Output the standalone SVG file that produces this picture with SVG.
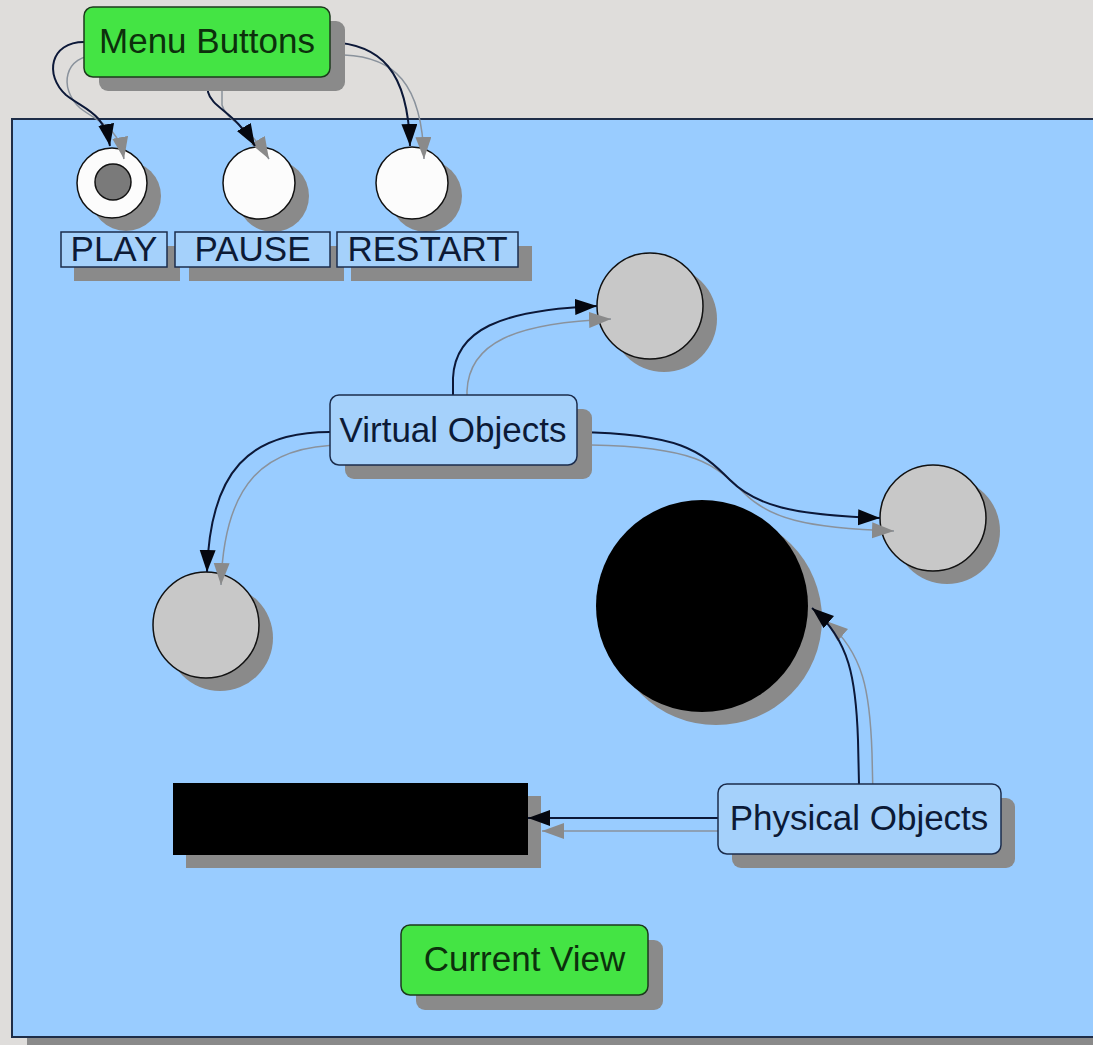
<svg xmlns="http://www.w3.org/2000/svg" width="1093" height="1045" viewBox="0 0 1093 1045">
  <style>
    .shadow { fill: #8a8a8a; }
    .green { fill: #44e444; stroke: #1c3a1c; stroke-width: 1.5; }
    .blue { fill: #a5d1fb; stroke: #1b2c4c; stroke-width: 1.5; }
    .white { fill: #fcfcfc; stroke: #111; stroke-width: 1.5; }
    .grey { fill: #c8c8c8; stroke: #111; stroke-width: 1.5; }
    .label { font-family: "Liberation Sans", Arial, sans-serif; font-size: 35px; text-anchor: middle; }
    .gtext { fill: #0c300c; }
    .btext { fill: #0c1a36; }
    .conn { fill: none; stroke: #0c1838; stroke-width: 2; }
    .conn-sh { fill: none; stroke: #8a929c; stroke-width: 1.5; }
  </style>
  <defs>
    <marker id="arrow" markerUnits="userSpaceOnUse" markerWidth="24" markerHeight="18" refX="22" refY="8" orient="auto">
      <path d="M0,0 L22,8 L0,16 z" fill="#05070f"/>
    </marker>
    <marker id="arrow-sh" markerUnits="userSpaceOnUse" markerWidth="24" markerHeight="18" refX="22" refY="8" orient="auto">
      <path d="M0,0 L22,8 L0,16 z" fill="#8a8a8a"/>
    </marker>
  </defs>

  <!-- page background -->
  <rect x="0" y="0" width="1093" height="1045" fill="#dfdddb"/>

  <!-- view panel -->
  <g id="panel">
    <rect x="27" y="1038" width="1080" height="10" class="shadow"/>
    <rect x="12" y="119" width="1100" height="918" fill="#99ccff" stroke="#1e2d48" stroke-width="2"/>
  </g>

  <!-- button circles -->
  <g id="play-button">
    <circle cx="126" cy="196" r="35" class="shadow"/>
    <circle cx="112" cy="183" r="35" class="white"/>
    <circle cx="113" cy="182" r="18" fill="#7a7a7a" stroke="#111" stroke-width="1.5"/>
  </g>
  <g id="pause-button">
    <circle cx="273" cy="196" r="36" class="shadow"/>
    <circle cx="259" cy="183" r="36" class="white"/>
  </g>
  <g id="restart-button">
    <circle cx="426" cy="196" r="36" class="shadow"/>
    <circle cx="412" cy="183" r="36" class="white"/>
  </g>

  <!-- button labels -->
  <g id="play-label">
    <rect x="74" y="246" width="106" height="35" class="shadow"/>
    <rect x="61" y="232" width="106" height="35" class="blue"/>
    <text x="114" y="261" class="label btext">PLAY</text>
  </g>
  <g id="pause-label">
    <rect x="189" y="246" width="155" height="35" class="shadow"/>
    <rect x="175" y="232" width="155" height="35" class="blue"/>
    <text x="252.5" y="261" class="label btext">PAUSE</text>
  </g>
  <g id="restart-label">
    <rect x="351" y="246" width="181" height="35" class="shadow"/>
    <rect x="337" y="232" width="181" height="35" class="blue"/>
    <text x="427.5" y="261" class="label btext">RESTART</text>
  </g>

  <!-- virtual object circles -->
  <g id="virtual-top">
    <circle cx="664" cy="319" r="53" class="shadow"/>
    <circle cx="650" cy="306" r="53" class="grey"/>
  </g>
  <g id="virtual-right">
    <circle cx="947" cy="531" r="53" class="shadow"/>
    <circle cx="933" cy="518" r="53" class="grey"/>
  </g>
  <g id="virtual-left">
    <circle cx="220" cy="638" r="53" class="shadow"/>
    <circle cx="206" cy="625" r="53" class="grey"/>
  </g>

  <!-- physical objects -->
  <g id="physical-circle">
    <circle cx="716" cy="619" r="106" class="shadow"/>
    <circle cx="702" cy="606" r="106" fill="#000"/>
  </g>
  <g id="physical-bar">
    <rect x="186" y="796" width="355" height="72" class="shadow"/>
    <rect x="173" y="783" width="355" height="72" fill="#000"/>
  </g>

  <!-- connectors: shadow copy first, then the line -->
  <g id="connectors">
    <g transform="translate(14,13)">
      <path class="conn-sh" marker-end="url(#arrow-sh)" d="M84,42 C50,42 44,75 66,95 C85,110 104,112 110,146"/>
      <path class="conn-sh" marker-end="url(#arrow-sh)" d="M208,77 L208,92 C212,108 235,112 255,146"/>
      <path class="conn-sh" marker-end="url(#arrow-sh)" d="M330,42 C380,44 408,70 410,146"/>
      <path class="conn-sh" marker-end="url(#arrow-sh)" d="M453,395 L453,378 C455,330 500,310 597,306"/>
      <path class="conn-sh" marker-end="url(#arrow-sh)" d="M577,432 C680,434 700,450 730,480 C755,505 790,515 880,518"/>
      <path class="conn-sh" marker-end="url(#arrow-sh)" d="M330,432 C250,432 210,470 207,572"/>
      <path class="conn-sh" marker-end="url(#arrow-sh)" d="M859,784 L858,740 C856,680 850,640 812,608"/>
      <path class="conn-sh" marker-end="url(#arrow-sh)" d="M718,818 L528,818"/>
    </g>
    <path class="conn" marker-end="url(#arrow)" d="M84,42 C50,42 44,75 66,95 C85,110 104,112 110,146"/>
    <path class="conn" marker-end="url(#arrow)" d="M208,77 L208,92 C212,108 235,112 255,146"/>
    <path class="conn" marker-end="url(#arrow)" d="M330,42 C380,44 408,70 410,146"/>
    <path class="conn" marker-end="url(#arrow)" d="M453,395 L453,378 C455,330 500,310 597,306"/>
    <path class="conn" marker-end="url(#arrow)" d="M577,432 C680,434 700,450 730,480 C755,505 790,515 880,518"/>
    <path class="conn" marker-end="url(#arrow)" d="M330,432 C250,432 210,470 207,572"/>
    <path class="conn" marker-end="url(#arrow)" d="M859,784 L858,740 C856,680 850,640 812,608"/>
    <path class="conn" marker-end="url(#arrow)" d="M718,818 L528,818"/>
  </g>

  <!-- labelled boxes -->
  <g id="menu-buttons">
    <rect x="99" y="21" width="246" height="70" rx="9" class="shadow"/>
    <rect x="84" y="7" width="246" height="70" rx="9" class="green"/>
    <text x="207" y="53" class="label gtext">Menu Buttons</text>
  </g>
  <g id="virtual-objects">
    <rect x="345" y="409" width="247" height="70" rx="9" class="shadow"/>
    <rect x="330" y="395" width="247" height="70" rx="9" class="blue"/>
    <text x="453" y="442" class="label btext">Virtual Objects</text>
  </g>
  <g id="physical-objects">
    <rect x="732" y="798" width="283" height="70" rx="9" class="shadow"/>
    <rect x="718" y="784" width="283" height="70" rx="9" class="blue"/>
    <text x="859" y="830" class="label btext">Physical Objects</text>
  </g>
  <g id="current-view">
    <rect x="416" y="940" width="247" height="70" rx="9" class="shadow"/>
    <rect x="401" y="925" width="247" height="70" rx="9" class="green"/>
    <text x="524.5" y="971" class="label gtext">Current View</text>
  </g>
</svg>
